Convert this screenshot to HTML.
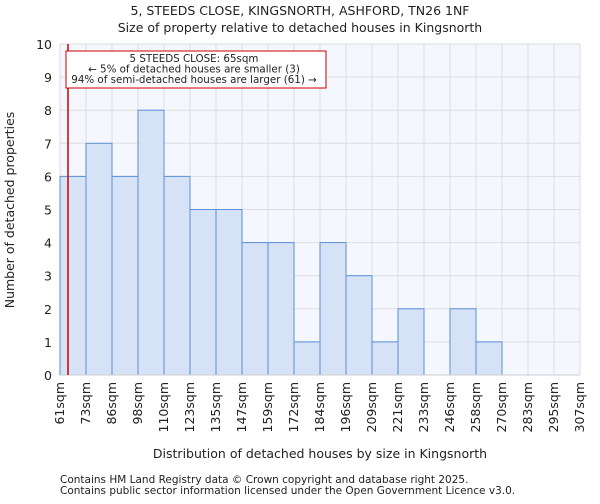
<!DOCTYPE html>
<html><head><meta charset="utf-8"><style>
body{margin:0;background:#fff;font-family:"DejaVu Sans","Liberation Sans",sans-serif}
svg text{font-family:"DejaVu Sans","Liberation Sans",sans-serif;fill:#222}
</style></head><body>
<svg id="c" width="600" height="500">
<text x="300" y="15" text-anchor="middle" font-size="12.5">5, STEEDS CLOSE, KINGSNORTH, ASHFORD, TN26 1NF</text>
<text x="300" y="32" text-anchor="middle" font-size="12.5">Size of property relative to detached houses in Kingsnorth</text>
<rect x="60" y="44" width="520" height="331" fill="#f5f7ff"/>
<g id="grid"></g><g id="bars"></g><g id="axes"></g>
<line x1="68" y1="44" x2="68" y2="375" stroke="#cc0000" stroke-width="1.5"/>
<rect x="66" y="51" width="260" height="37" fill="#fff" stroke="#cc0000" stroke-width="1"/>
<text x="194" y="62" text-anchor="middle" font-size="10.3">5 STEEDS CLOSE: 65sqm</text>
<text x="194" y="72.5" text-anchor="middle" font-size="10.3">← 5% of detached houses are smaller (3)</text>
<text x="194" y="83" text-anchor="middle" font-size="10.3">94% of semi-detached houses are larger (61) →</text>
<text x="320" y="458" text-anchor="middle" font-size="12.5">Distribution of detached houses by size in Kingsnorth</text>
<text transform="translate(14,210) rotate(-90)" text-anchor="middle" font-size="12.5">Number of detached properties</text>
<text x="60" y="483" font-size="10.5" fill="#444">Contains HM Land Registry data © Crown copyright and database right 2025.</text>
<text x="60" y="494" font-size="10.5" fill="#444">Contains public sector information licensed under the Open Government Licence v3.0.</text>
</svg>
<script>
const categories=["61sqm","73sqm","86sqm","98sqm","110sqm","123sqm","135sqm","147sqm","159sqm","172sqm","184sqm","196sqm","209sqm","221sqm","233sqm","246sqm","258sqm","270sqm","283sqm","295sqm","307sqm"];
const counts=[6,7,6,8,6,5,5,4,4,1,4,3,1,2,0,2,1,0,0,0];
const yTicks=[0,1,2,3,4,5,6,7,8,9,10];
const NS="http://www.w3.org/2000/svg";
const L=60,R=580,T=44,B=375,yMax=10;
const bw=(R-L)/counts.length;
const xs=i=>L+i*bw, ys=v=>B-(v/yMax)*(B-T);
function mk(t,a,p){const e=document.createElementNS(NS,t);for(const k in a)e.setAttribute(k,a[k]);p.appendChild(e);return e;}
const g=document.getElementById('grid'),b=document.getElementById('bars'),ax=document.getElementById('axes');
yTicks.forEach(v=>{
 const l=mk('line',{x1:L,x2:R,y1:ys(v),y2:ys(v),stroke:'#ddd'},g);
 
 
 const t=mk('text',{x:L-8,y:ys(v)+5,'text-anchor':'end','font-size':'12.5'},ax);
 t.textContent=v;
 
 
});
categories.forEach((c,i)=>{
 const x=xs(i);
 const l=mk('line',{x1:x,x2:x,y1:T,y2:B,stroke:'#ddd'},g);
 
 
 const t=mk('text',{transform:`translate(${x+4},${B+7}) rotate(-90)`,'text-anchor':'end','font-size':'12.5'},ax);
 t.textContent=c;
 
 
});
counts.forEach((v,i)=>{
 if(v<=0)return;
 const r=mk('rect',{x:xs(i),y:ys(v),width:bw,height:B-ys(v),fill:'#d6e2f5',stroke:'#5a8fd6','stroke-width':1},b);
 
 
});
const base=mk('line',{x1:L,x2:R,y1:B,y2:B,stroke:'#ccc'},ax);


</script>
</body></html>
